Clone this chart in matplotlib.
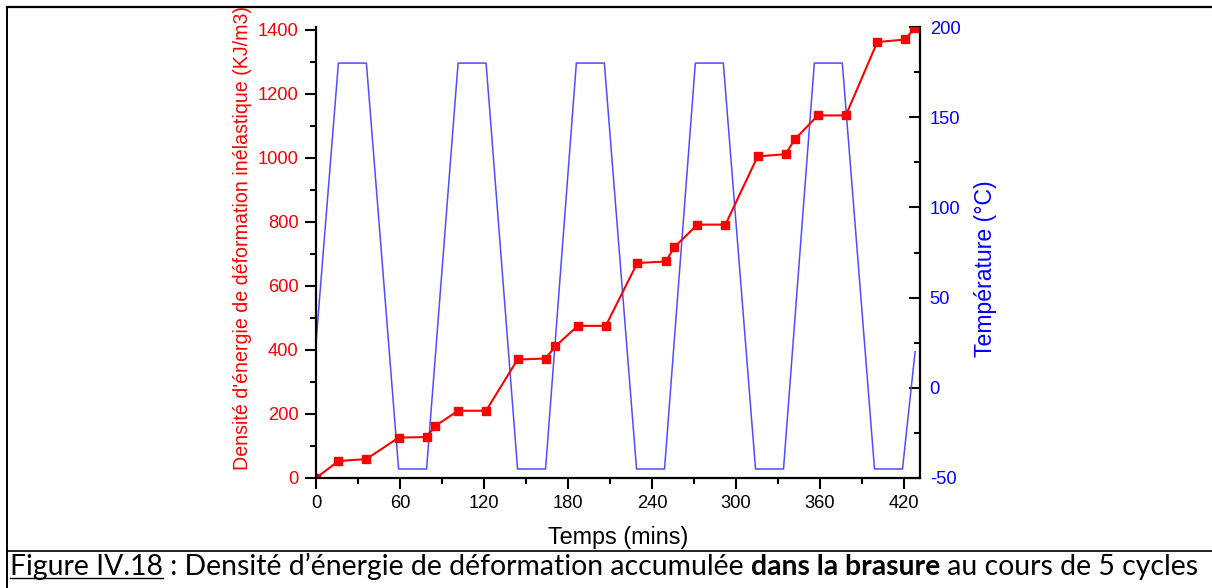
import numpy as np
import matplotlib
matplotlib.use('Agg')
import matplotlib.pyplot as plt
from matplotlib.lines import Line2D
from matplotlib.ticker import MultipleLocator

plt.rcParams['font.family'] = ['Liberation Sans', 'DejaVu Sans']
plt.rcParams['axes.unicode_minus'] = False

# energie de deformation (points rouges)
temps_w = [0, 16, 36, 59, 79, 85, 101.5, 121.5, 144, 164, 171, 187, 207, 229.5, 250, 256,
           272.5, 292.5, 315.5, 335.5, 342, 358.5, 378.5, 401, 421, 427.5]
energie = [0, 53, 59, 126, 128, 162, 210, 210, 370, 373, 411, 475, 475, 671, 676, 721,
           791, 791, 1004, 1011, 1057, 1132, 1132, 1361, 1369, 1405]

# cycle de temperature (ligne bleue)
temps_T = [0, 16, 36, 59, 79, 101.5, 121.5, 144, 164, 186, 206, 229, 249, 271, 291,
           314, 334, 356, 376, 399, 419, 428]
temperature = [25, 180, 180, -45, -45, 180, 180, -45, -45, 180, 180, -45, -45, 180, 180,
               -45, -45, 180, 180, -45, -45, 20]

x_ticks = [0, 60, 120, 180, 240, 300, 360, 420]

W, H = 1212, 588
fig = plt.figure(figsize=(W / 100, H / 100), dpi=100)
ax = fig.add_axes([316 / W, 1 - 478 / H, 604 / W, 451 / H])
ax2 = ax.twinx()

ax2.plot(temps_T, temperature, color='#4d4dff', linewidth=1.1)
ax.plot(temps_w, energie, color='red', linewidth=1.5, marker='s', markersize=6,
        markeredgecolor='red', markerfacecolor='red')

ax.set_zorder(ax2.get_zorder() + 1)
ax.patch.set_visible(False)

ax.set_xlim(0, 431.5)
ax.set_ylim(0, 1408)
ax2.set_ylim(-50, 200)

ax.set_xticks(x_ticks)
ax.xaxis.set_minor_locator(MultipleLocator(30))
ax.yaxis.set_major_locator(MultipleLocator(200))
ax.yaxis.set_minor_locator(MultipleLocator(100))
ax2.yaxis.set_major_locator(MultipleLocator(50))
ax2.yaxis.set_minor_locator(MultipleLocator(25))

for a in (ax, ax2):
    a.spines['top'].set_visible(False)
    for s in a.spines.values():
        s.set_linewidth(1.6)
ax.spines['right'].set_visible(False)
ax2.spines['left'].set_visible(False)
ax2.spines['bottom'].set_visible(False)

ax.tick_params(axis='x', which='major', direction='out', length=8, width=1.5,
               labelsize=13.2, pad=4)
ax.tick_params(axis='x', which='minor', direction='out', length=4.5, width=1.5)
ax.tick_params(axis='y', which='major', direction='out', length=8, width=1.5,
               labelsize=13.2, labelcolor='red', pad=4.5)
ax.tick_params(axis='y', which='minor', direction='out', length=4.5, width=1.5)
ax2.tick_params(axis='y', which='major', direction='in', length=8, width=1.5,
                labelsize=13.2, labelcolor='blue', pad=7)
ax2.tick_params(axis='y', which='minor', direction='in', length=4.5, width=1.5)

ax.set_xlabel('Temps (mins)', fontsize=16.8)
ax.xaxis.set_label_coords(0.5, -0.107)
ax.set_ylabel("Densité d'énergie de déformation inélastique (KJ/m3)", fontsize=14.1, color='red')
ax.yaxis.set_label_coords(-0.106, 0.532)
ax2.set_ylabel('Température (°C)', fontsize=16.6, color='blue')
ax2.yaxis.set_label_coords(1.09, 0.463)

# cadre du tableau
fig.add_artist(Line2D([7 / W, 1], [1 - 6.5 / H, 1 - 6.5 / H], color='black', linewidth=1.6))
fig.add_artist(Line2D([7 / W, 7 / W], [0, 1 - 6.5 / H], color='black', linewidth=1.4))
fig.add_artist(Line2D([7 / W, 1], [1 - 551 / H, 1 - 551 / H], color='black', linewidth=1.2))

# legende de la figure
morceaux = [('Figure IV.18', 'normal', True),
            (' : Densité d\u2019énergie de déformation accumulée ', 'normal', False),
            ('dans la brasure', 'bold', False),
            (' au cours de 5 cycles', 'normal', False)]
fig.canvas.draw()
r = fig.canvas.get_renderer()
largeur = 0
for s, w, ul in morceaux:
    t = fig.text(0, 0, s, fontsize=15, fontweight=w, family='Lato')
    largeur += t.get_window_extent(r).width
    t.remove()
fs = 15 * 1187 / largeur

x = 10
base = 575
for s, w, ul in morceaux:
    t = fig.text(x / W, 1 - base / H, s, fontsize=fs, fontweight=w, family='Lato',
                 va='baseline', ha='left')
    bb = t.get_window_extent(r)
    if ul:
        fig.add_artist(Line2D([bb.x0 / W, bb.x1 / W], [1 - (base + 2.5) / H] * 2,
                              color='black', linewidth=1.0))
    x += bb.width

fig.savefig('out.png', dpi=100)
